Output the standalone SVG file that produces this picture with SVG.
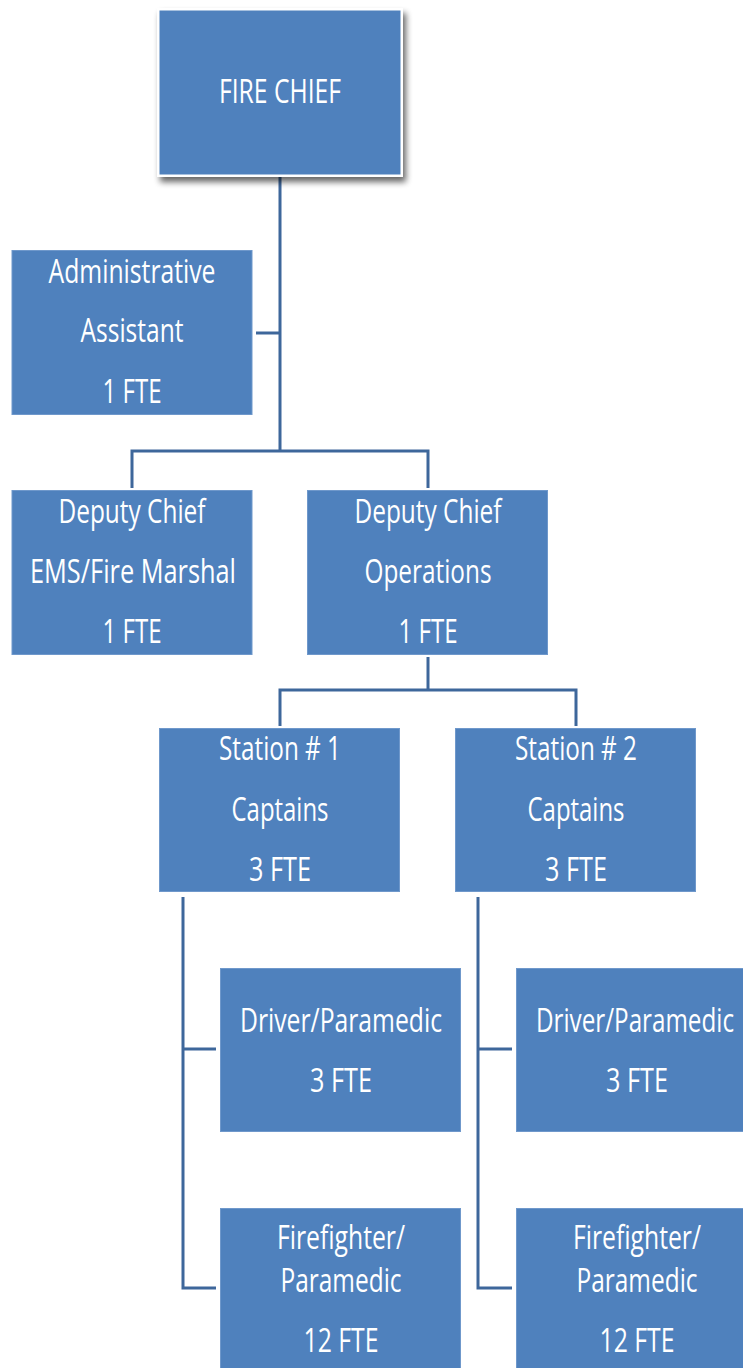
<svg xmlns="http://www.w3.org/2000/svg" width="743" height="1368" viewBox="0 0 743 1368">
  <style>
    .box { fill: #4f81bd; stroke: #6f98cb; stroke-width: 1; }
    .lbl { font-family: "Open Sans", "Liberation Sans", sans-serif; font-size: 32px; fill: #ffffff; text-anchor: middle; }
    .link { fill: none; stroke: #3e679b; stroke-width: 3; }
  </style>
  <defs>
    <filter id="shadow" x="-10%" y="-10%" width="130%" height="130%">
      <feGaussianBlur in="SourceAlpha" stdDeviation="3"/>
      <feOffset dx="3" dy="5" result="b"/>
      <feComponentTransfer><feFuncA type="linear" slope="0.6"/></feComponentTransfer>
      <feMerge><feMergeNode/><feMergeNode in="SourceGraphic"/></feMerge>
    </filter>
  </defs>
  <rect width="743" height="1368" fill="#ffffff"/>

  <!-- connectors -->
  <g id="connectors">
    <path class="link" d="M280 176 V451"/>
    <path class="link" d="M256 333 H280"/>
    <path class="link" d="M132 488 V451 H428 V488"/>
    <path class="link" d="M428 657 V690"/>
    <path class="link" d="M280 726 V690 H576 V726"/>
    <path class="link" d="M183 897 V1288 H216"/>
    <path class="link" d="M183 1049 H216"/>
    <path class="link" d="M478 897 V1288 H512"/>
    <path class="link" d="M478 1049 H512"/>
  </g>

  <!-- top -->
  <g id="fire-chief">
    <rect x="157" y="8" width="246" height="169" fill="#ffffff" filter="url(#shadow)"/>
    <rect x="159.5" y="10.5" width="241" height="164" fill="#4f81bd"/>
    <text class="lbl" x="280" y="103" textLength="122" lengthAdjust="spacingAndGlyphs">FIRE CHIEF</text>
  </g>

  <g id="admin-assistant">
    <rect class="box" x="12" y="250.5" width="240" height="164"/>
    <text class="lbl" x="132" y="283" textLength="167" lengthAdjust="spacingAndGlyphs">Administrative</text>
    <text class="lbl" x="132" y="342" textLength="103" lengthAdjust="spacingAndGlyphs">Assistant</text>
    <text class="lbl" x="132" y="403" textLength="59" lengthAdjust="spacingAndGlyphs">1 FTE</text>
  </g>

  <g id="deputy-ems">
    <rect class="box" x="12" y="490.5" width="240" height="164"/>
    <text class="lbl" x="132" y="523" textLength="147" lengthAdjust="spacingAndGlyphs">Deputy Chief</text>
    <text class="lbl" x="133" y="583" textLength="206" lengthAdjust="spacingAndGlyphs">EMS/Fire Marshal</text>
    <text class="lbl" x="132" y="643" textLength="59" lengthAdjust="spacingAndGlyphs">1 FTE</text>
  </g>

  <g id="deputy-operations">
    <rect class="box" x="307.5" y="490.5" width="240" height="164"/>
    <text class="lbl" x="428" y="523" textLength="147" lengthAdjust="spacingAndGlyphs">Deputy Chief</text>
    <text class="lbl" x="428" y="583" textLength="127" lengthAdjust="spacingAndGlyphs">Operations</text>
    <text class="lbl" x="428" y="643" textLength="59" lengthAdjust="spacingAndGlyphs">1 FTE</text>
  </g>

  <g id="station-1">
    <rect class="box" x="159.5" y="728.5" width="240" height="163"/>
    <text class="lbl" x="280" y="760" textLength="122" lengthAdjust="spacingAndGlyphs">Station # 1</text>
    <text class="lbl" x="280" y="821" textLength="97" lengthAdjust="spacingAndGlyphs">Captains</text>
    <text class="lbl" x="280" y="881" textLength="62" lengthAdjust="spacingAndGlyphs">3 FTE</text>
  </g>

  <g id="station-2">
    <rect class="box" x="455.5" y="728.5" width="240" height="163"/>
    <text class="lbl" x="576" y="760" textLength="122" lengthAdjust="spacingAndGlyphs">Station # 2</text>
    <text class="lbl" x="576" y="821" textLength="97" lengthAdjust="spacingAndGlyphs">Captains</text>
    <text class="lbl" x="576" y="881" textLength="62" lengthAdjust="spacingAndGlyphs">3 FTE</text>
  </g>

  <g id="driver-1">
    <rect class="box" x="220.5" y="968.5" width="240" height="163"/>
    <text class="lbl" x="341" y="1032" textLength="202" lengthAdjust="spacingAndGlyphs">Driver/Paramedic</text>
    <text class="lbl" x="341" y="1092" textLength="62" lengthAdjust="spacingAndGlyphs">3 FTE</text>
  </g>

  <g id="driver-2">
    <rect class="box" x="516.5" y="968.5" width="240" height="163"/>
    <text class="lbl" x="635" y="1032" textLength="198" lengthAdjust="spacingAndGlyphs">Driver/Paramedic</text>
    <text class="lbl" x="637" y="1092" textLength="62" lengthAdjust="spacingAndGlyphs">3 FTE</text>
  </g>

  <g id="firefighter-1">
    <rect class="box" x="220.5" y="1208.5" width="240" height="165"/>
    <text class="lbl" x="341" y="1249" textLength="128" lengthAdjust="spacingAndGlyphs">Firefighter/</text>
    <text class="lbl" x="341" y="1292" textLength="121" lengthAdjust="spacingAndGlyphs">Paramedic</text>
    <text class="lbl" x="341" y="1352" textLength="75" lengthAdjust="spacingAndGlyphs">12 FTE</text>
  </g>

  <g id="firefighter-2">
    <rect class="box" x="516.5" y="1208.5" width="240" height="165"/>
    <text class="lbl" x="637" y="1249" textLength="128" lengthAdjust="spacingAndGlyphs">Firefighter/</text>
    <text class="lbl" x="637" y="1292" textLength="121" lengthAdjust="spacingAndGlyphs">Paramedic</text>
    <text class="lbl" x="637" y="1352" textLength="75" lengthAdjust="spacingAndGlyphs">12 FTE</text>
  </g>
</svg>
